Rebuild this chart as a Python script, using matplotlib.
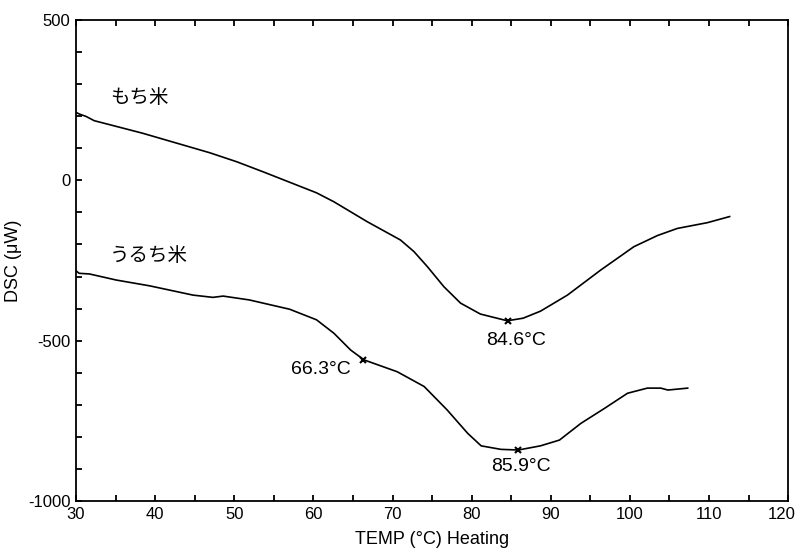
import matplotlib.pyplot as plt
from matplotlib.ticker import MultipleLocator

plt.rcParams['font.family'] = ['Liberation Sans', 'Noto Sans CJK JP', 'DejaVu Sans']

# もち米 (waxy rice) DSC curve
mochi_temp = [30.0, 30.4, 31.3, 32.3, 38.4, 46.9, 50.3, 53.6, 60.4, 62.6, 66.8, 71.0,
              72.7, 74.4, 76.5, 78.6, 81.1, 84.5, 86.5, 88.7, 92.1, 96.3, 100.5,
              103.5, 106.0, 109.8, 112.6]
mochi_dsc = [212, 207, 199, 186, 147, 86, 58, 27, -39, -67, -129, -186,
             -222, -269, -332, -383, -417, -438, -430, -408, -358, -280, -207,
             -172, -150, -132, -113]

# うるち米 (non-waxy rice) DSC curve
uruchi_temp = [30.0, 30.4, 31.7, 35.1, 39.3, 44.8, 47.3, 48.6, 51.9, 57.0, 60.4, 62.6,
               64.7, 66.4, 70.6, 74.0, 76.9, 79.5, 81.2, 83.7, 85.9, 88.7, 91.1,
               93.8, 96.8, 99.7, 102.2, 103.9, 104.8, 107.3]
uruchi_dsc = [-282, -290, -292, -311, -329, -358, -365, -361, -373, -402, -435, -477,
              -529, -560, -597, -643, -716, -789, -828, -839, -841, -828, -810,
              -758, -711, -664, -648, -648, -654, -648]

# marked peaks
peak_temp = [84.6, 66.3, 85.9]
peak_dsc = [-438, -560, -841]
peak_labels = ['84.6°C', '66.3°C', '85.9°C']
label_pos = [(85.6, -498), (60.9, -591), (86.2, -891)]

x_ticks = [30, 40, 50, 60, 70, 80, 90, 100, 110, 120]
y_ticks = [-1000, -500, 0, 500]
y_ticklabels = ['-1000', '-500', '0', '500']

fig = plt.figure(figsize=(7.98, 5.52), dpi=100)
ax = fig.add_axes([0.0952, 0.0924, 0.8925, 0.8714])

ax.plot(mochi_temp, mochi_dsc, color='black', linewidth=1.2)
ax.plot(uruchi_temp, uruchi_dsc, color='black', linewidth=1.2)
ax.plot(peak_temp, peak_dsc, linestyle='none', marker='x', color='black',
        markersize=5, markeredgewidth=1.5)

for (tx, ty), lab in zip(label_pos, peak_labels):
    ax.text(tx, ty, lab, fontsize=14, ha='center', va='center')

ax.text(34.3, 257, 'もち米', fontsize=14, ha='left', va='center',
        family=['Noto Sans CJK JP'])
ax.text(34.3, -235, 'うるち米', fontsize=14, ha='left', va='center',
        family=['Noto Sans CJK JP'])

ax.set_xlim(30, 120)
ax.set_ylim(-1000, 500)
ax.set_xticks(x_ticks)
# last label drawn separately so it stays inside the figure
ax.set_xticklabels([str(t) for t in x_ticks[:-1]] + [''])
ax.annotate(str(x_ticks[-1]), xy=(x_ticks[-1], -1000), xytext=(-5, -4),
            textcoords='offset points', ha='center', va='top', fontsize=12,
            annotation_clip=False)
ax.xaxis.set_minor_locator(MultipleLocator(5))
ax.yaxis.set_minor_locator(MultipleLocator(100))
ax.set_yticks(y_ticks)
ax.set_yticklabels(y_ticklabels)
ax.tick_params(which='both', direction='in', top=True, right=False, length=4,
               width=1.3, labelsize=12, pad=4)
for s in ax.spines.values():
    s.set_linewidth(1.3)

ax.set_xlabel('TEMP (°C) Heating', fontsize=13, labelpad=7)
ax.set_ylabel('DSC (μW)', fontsize=13, labelpad=4)

fig.savefig('out.png', dpi=100)
